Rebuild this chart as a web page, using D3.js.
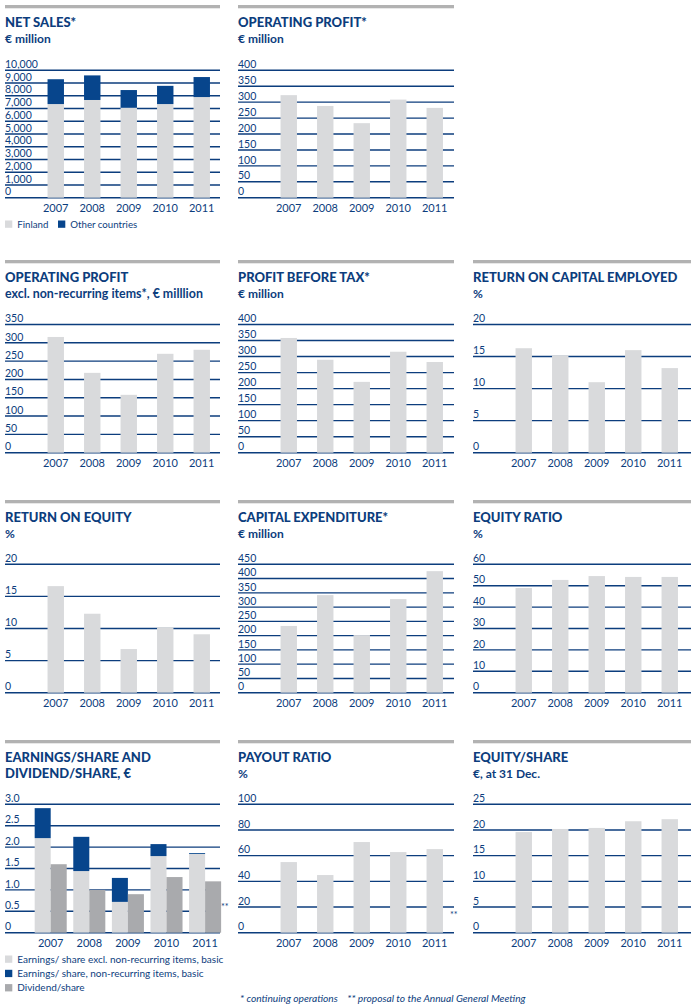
<!DOCTYPE html>
<html><head><meta charset="utf-8">
<script src="https://cdn.jsdelivr.net/npm/d3@7/dist/d3.min.js"></script>
<style>
html,body{margin:0;padding:0;background:#fff;}
svg{display:block;font-family:Lato,"Open Sans",sans-serif;}
</style></head>
<body>
<svg id="c" width="691" height="1008"></svg>
<script>
const years = ["2007","2008","2009","2010","2011"];
const netSalesFinland = [7350,7670,7060,7350,7900];
const netSalesOther = [1950,1930,1390,1430,1570];
const opProfit = [322,288,234,308,282];
const opProfitExcl = [316,218,158,270,281];
const profitBeforeTax = [358,290,221,315,283];
const roce = [16.3,15.2,11.0,16.0,13.2];
const roe = [16.6,12.3,6.8,10.2,9.1];
const capex = [234,342,202,328,426];
const equityRatio = [48.9,52.7,54.5,54.1,54.1];
const epsExcl = [2.21,1.44,0.72,1.79,1.84];
const epsNonRec = [0.70,0.80,0.56,0.28,0.02];
const dividend = [1.60,1.00,0.90,1.30,1.20];
const payout = [55,44.9,70.6,62.8,65.1];
const equityPerShare = [19.6,20.2,20.4,21.7,22.1];

const ticksNetSales = d3.range(0,10001,1000);
const ticksOp = d3.range(0,401,50);
const ticksOpExcl = d3.range(0,351,50);
const ticksPct20 = [0,5,10,15,20];
const ticksCapex = d3.range(0,451,50);
const ticksEqRatio = d3.range(0,61,10);
const ticksEps = [0,0.5,1.0,1.5,2.0,2.5,3.0];
const ticksPayout = [0,20,40,60,80,100];
const ticksEqShare = [0,5,10,15,20,25];

const NAVY = "#0c3d7d", BLUE = "#07458c", LIGHT = "#d9dadc", DARK = "#a9aaad", TOPBAR = "#b2b2b2";
const svg = d3.select("#c");

const cols = [{x0:5,x1:220},{x0:238,x1:454},{x0:473,x1:691}];
const rows = [{bar:5,gt:70.3,base:197.7},{bar:260,gt:324.5,base:452.7},{bar:500,gt:564.3,base:692.7},{bar:740,gt:804.3,base:932.7}];

function panel(c, r, cfg){
  const col = cols[c], row = rows[r];
  const g = svg.append("g");
  g.append("rect").attr("x",col.x0).attr("y",row.bar).attr("width",col.x1-col.x0).attr("height",3.3).attr("fill",TOPBAR);
  cfg.title.forEach((t,i)=>{
    g.append("text").attr("x",col.x0).attr("y",row.bar+22+i*16).attr("fill",NAVY)
      .attr("font-size",13).attr("font-weight",900).text(t);
  });
  if(cfg.sub){
    g.append("text").attr("x",col.x0).attr("y",row.bar+38).attr("fill",NAVY)
      .attr("font-size",cfg.subSize||12).attr("font-weight",700).text(cfg.sub);
  }
  const y = d3.scaleLinear().domain([0,d3.max(cfg.ticks)]).range([row.base,row.gt]);
  // grid
  g.selectAll(null).data(cfg.ticks).join("line")
    .attr("x1",col.x0).attr("x2",col.x1).attr("y1",d=>y(d)).attr("y2",d=>y(d))
    .attr("stroke",NAVY).attr("stroke-width",1.4);
  g.selectAll(null).data(cfg.ticks).join("text")
    .attr("x",col.x0).attr("y",d=>y(d)-2.3).attr("fill",NAVY).attr("font-size",10.5)
    .text(cfg.fmt);
  if(cfg.grouped){
    const x = d3.scaleBand().domain(years).range([col.x0+26.4,col.x0+219.4]).paddingInner(0.17).paddingOuter(0.085);
    const bw = x.bandwidth()/2;
    years.forEach((yr,i)=>{
      const a = cfg.grouped[0][i], b = cfg.grouped[1][i], dv = cfg.grouped[2][i];
      g.append("rect").attr("x",x(yr)).attr("width",bw).attr("y",y(a)).attr("height",y(0)-y(a)).attr("fill",LIGHT);
      g.append("rect").attr("x",x(yr)).attr("width",bw).attr("y",y(a+b)).attr("height",y(a)-y(a+b)).attr("fill",BLUE);
      g.append("rect").attr("x",x(yr)+bw).attr("width",bw).attr("y",y(dv)).attr("height",y(0)-y(dv)).attr("fill",DARK);
    });
    g.selectAll(null).data(years).join("text").attr("x",d=>x(d)+x.bandwidth()/2).attr("y",row.base+14.5)
      .attr("text-anchor","middle").attr("fill",NAVY).attr("font-size",11).text(d=>d);
  } else {
    const x = d3.scaleBand().domain(years).range([col.x0+32.5,col.x0+215]).paddingInner(0.55).paddingOuter(0.275);
    const stack = cfg.series;
    years.forEach((yr,i)=>{
      let acc = 0;
      stack.forEach((s,k)=>{
        const v = s.values[i];
        g.append("rect").attr("x",x(yr)).attr("width",x.bandwidth()).attr("y",y(acc+v)).attr("height",y(acc)-y(acc+v)).attr("fill",s.color);
        acc += v;
      });
    });
    g.selectAll(null).data(years).join("text").attr("x",d=>x(d)+x.bandwidth()/2).attr("y",row.base+14.5)
      .attr("text-anchor","middle").attr("fill",NAVY).attr("font-size",11).text(d=>d);
  }
  return {g,y,col,row};
}

const fmtComma = d3.format(",");
const fmtPlain = d=>String(d);

panel(0,0,{title:["NET SALES*"],sub:"€ million",ticks:ticksNetSales,fmt:fmtComma,
  series:[{values:netSalesFinland,color:LIGHT},{values:netSalesOther,color:BLUE}]});
panel(1,0,{title:["OPERATING PROFIT*"],sub:"€ million",ticks:ticksOp,fmt:fmtPlain,series:[{values:opProfit,color:LIGHT}]});
panel(0,1,{title:["OPERATING PROFIT"],sub:"excl. non-recurring items*, € milllion",subSize:12.4,ticks:ticksOpExcl,fmt:fmtPlain,series:[{values:opProfitExcl,color:LIGHT}]});
panel(1,1,{title:["PROFIT BEFORE TAX*"],sub:"€ million",ticks:ticksOp,fmt:fmtPlain,series:[{values:profitBeforeTax,color:LIGHT}]});
panel(2,1,{title:["RETURN ON CAPITAL EMPLOYED"],sub:"%",ticks:ticksPct20,fmt:fmtPlain,series:[{values:roce,color:LIGHT}]});
panel(0,2,{title:["RETURN ON EQUITY"],sub:"%",ticks:ticksPct20,fmt:fmtPlain,series:[{values:roe,color:LIGHT}]});
panel(1,2,{title:["CAPITAL EXPENDITURE*"],sub:"€ million",ticks:ticksCapex,fmt:fmtPlain,series:[{values:capex,color:LIGHT}]});
panel(2,2,{title:["EQUITY RATIO"],sub:"%",ticks:ticksEqRatio,fmt:fmtPlain,series:[{values:equityRatio,color:LIGHT}]});
panel(0,3,{title:["EARNINGS/SHARE AND","DIVIDEND/SHARE, €"],sub:null,ticks:ticksEps,fmt:d=>d===0?"0":d3.format(".1f")(d),
  grouped:[epsExcl,epsNonRec,dividend]});
panel(1,3,{title:["PAYOUT RATIO"],sub:"%",ticks:ticksPayout,fmt:fmtPlain,series:[{values:payout,color:LIGHT}]});
panel(2,3,{title:["EQUITY/SHARE"],sub:"€, at 31 Dec.",ticks:ticksEqShare,fmt:fmtPlain,series:[{values:equityPerShare,color:LIGHT}]});

// legend net sales
const leg1 = [{t:"Finland",c:LIGHT,x:5},{t:"Other countries",c:BLUE,x:58}];
leg1.forEach(l=>{
  svg.append("rect").attr("x",l.x).attr("y",220.5).attr("width",7.3).attr("height",7.3).attr("fill",l.c);
  svg.append("text").attr("x",l.x+12.3).attr("y",227.8).attr("fill",NAVY).attr("font-size",9.7).text(l.t);
});
// legend eps
const leg9 = [{t:"Earnings/ share excl. non-recurring items, basic",c:LIGHT},{t:"Earnings/ share, non-recurring items, basic",c:BLUE},{t:"Dividend/share",c:DARK}];
leg9.forEach((l,i)=>{
  const yy = 955.5+i*14.3;
  svg.append("rect").attr("x",5).attr("y",yy).attr("width",7.3).attr("height",7.3).attr("fill",l.c);
  svg.append("text").attr("x",17.3).attr("y",yy+7.3).attr("fill",NAVY).attr("font-size",10).text(l.t);
});
// ** marks
svg.append("text").attr("x",221).attr("y",910).attr("fill",NAVY).attr("font-size",9).text("**");
svg.append("text").attr("x",450).attr("y",918).attr("fill",NAVY).attr("font-size",9).text("**");
// footnote
svg.append("text").attr("x",240).attr("y",1002).attr("fill",NAVY).attr("font-size",10.2).attr("font-style","italic")
  .attr("xml:space","preserve").text("* continuing operations    ** proposal to the Annual General Meeting");
</script>
</body></html>
